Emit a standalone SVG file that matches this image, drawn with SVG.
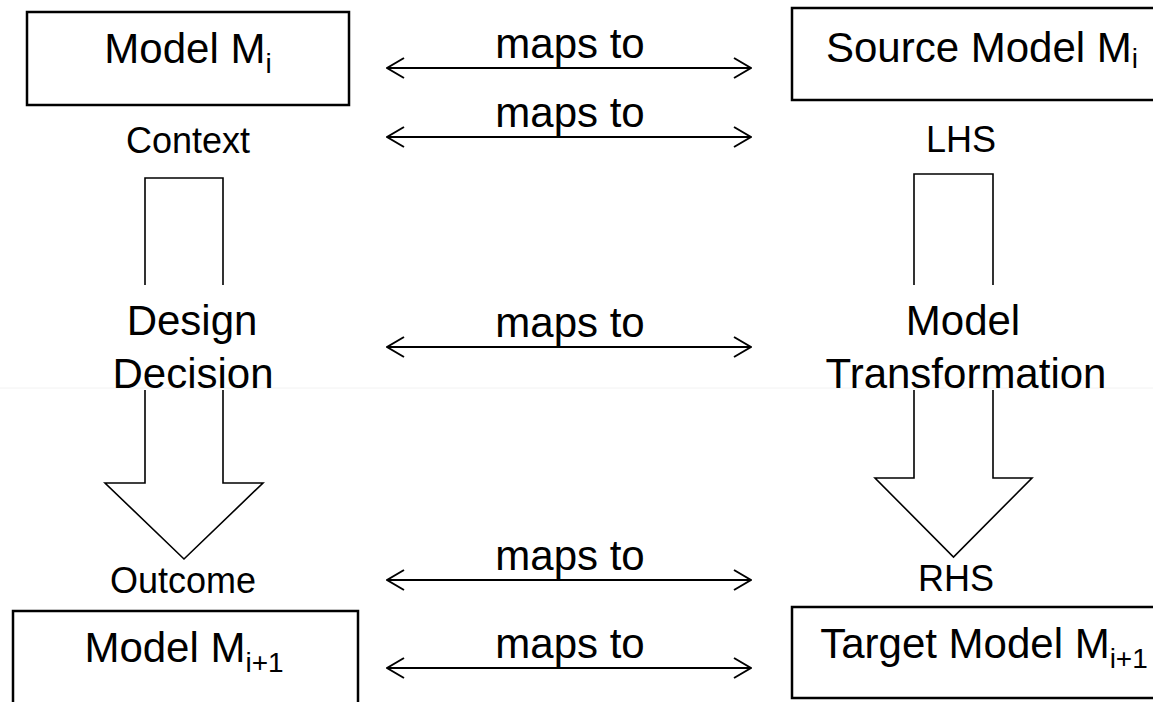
<svg xmlns="http://www.w3.org/2000/svg" width="1153" height="702" viewBox="0 0 1153 702">
  <defs>
    <marker id="chev" viewBox="0 0 20 24" refX="19" refY="12" markerWidth="20" markerHeight="24" markerUnits="userSpaceOnUse" orient="auto-start-reverse">
      <path d="M2,2 L19,12 L2,22" fill="none" stroke="#000" stroke-width="2"/>
    </marker>
    <style>
      .box { fill: #fff; stroke: #000; stroke-width: 2.5; }
      .big { font-family: "Liberation Sans", Arial, sans-serif; font-size: 42px; fill: #000; }
      .sub { font-size: 28px; }
      .small { font-family: "Liberation Sans", Arial, sans-serif; font-size: 36px; fill: #000; }
      .blk { fill: none; stroke: #000; stroke-width: 1.6; stroke-linejoin: miter; }
      .conn { stroke: #000; stroke-width: 2; fill: none; marker-start: url(#chev); marker-end: url(#chev); }
      .lbl { font-family: "Liberation Sans", Arial, sans-serif; font-size: 42px; fill: #000; text-anchor: middle; }
    </style>
  </defs>

  <rect width="1153" height="702" fill="#fff"/>
  <!-- faint slide seam -->
  <line x1="0" y1="388" x2="1153" y2="388" stroke="#f2f2f2" stroke-width="1"/>

  <!-- left column -->
  <g id="model-mi">
    <rect class="box" x="27" y="12" width="322" height="93"/>
    <text class="big" x="188" y="63" text-anchor="middle">Model M<tspan class="sub" dy="10">i</tspan></text>
  </g>
  <g id="context">
    <text class="small" x="188" y="153" text-anchor="middle">Context</text>
  </g>
  <g id="design-decision">
    <path class="blk" d="M145,285 V178 H223 V285"/>
    <path class="blk" d="M145,390 V483 H105 L184,559 L263,483 H223 V390"/>
    <text class="big" x="192" y="335" text-anchor="middle">Design</text>
    <text class="big" x="193" y="388" text-anchor="middle">Decision</text>
  </g>
  <g id="outcome">
    <text class="small" x="183" y="593" text-anchor="middle">Outcome</text>
  </g>
  <g id="model-mi1">
    <rect class="box" x="13" y="611" width="345" height="100"/>
    <text class="big" x="184" y="662" text-anchor="middle">Model M<tspan class="sub" dy="10">i+1</tspan></text>
  </g>

  <!-- right column -->
  <g id="source-model">
    <rect class="box" x="792" y="8" width="380" height="92"/>
    <text class="big" x="982" y="62" text-anchor="middle">Source Model M<tspan class="sub" dy="6">i</tspan></text>
  </g>
  <g id="lhs">
    <text class="small" x="961" y="152" text-anchor="middle">LHS</text>
  </g>
  <g id="model-transformation">
    <path class="blk" d="M914,285 V174 H993 V285"/>
    <path class="blk" d="M914,390 V478 H875 L953.5,557 L1032,478 H993 V390"/>
    <text class="big" x="963" y="335" text-anchor="middle">Model</text>
    <text class="big" x="966" y="388" text-anchor="middle">Transformation</text>
  </g>
  <g id="rhs">
    <text class="small" x="956" y="591" text-anchor="middle">RHS</text>
  </g>
  <g id="target-model">
    <rect class="box" x="792" y="607" width="380" height="91"/>
    <text class="big" x="984" y="658" text-anchor="middle">Target Model M<tspan class="sub" dy="10">i+1</tspan></text>
  </g>

  <!-- mapping connectors -->
  <g id="connectors">
    <line class="conn" x1="387" y1="68" x2="751" y2="68"/>
    <text class="lbl" x="570" y="58">maps to</text>
    <line class="conn" x1="387" y1="137" x2="751" y2="137"/>
    <text class="lbl" x="570" y="127">maps to</text>
    <line class="conn" x1="387" y1="347" x2="751" y2="347"/>
    <text class="lbl" x="570" y="337">maps to</text>
    <line class="conn" x1="387" y1="580" x2="751" y2="580"/>
    <text class="lbl" x="570" y="570">maps to</text>
    <line class="conn" x1="387" y1="668" x2="751" y2="668"/>
    <text class="lbl" x="570" y="658">maps to</text>
  </g>
</svg>
